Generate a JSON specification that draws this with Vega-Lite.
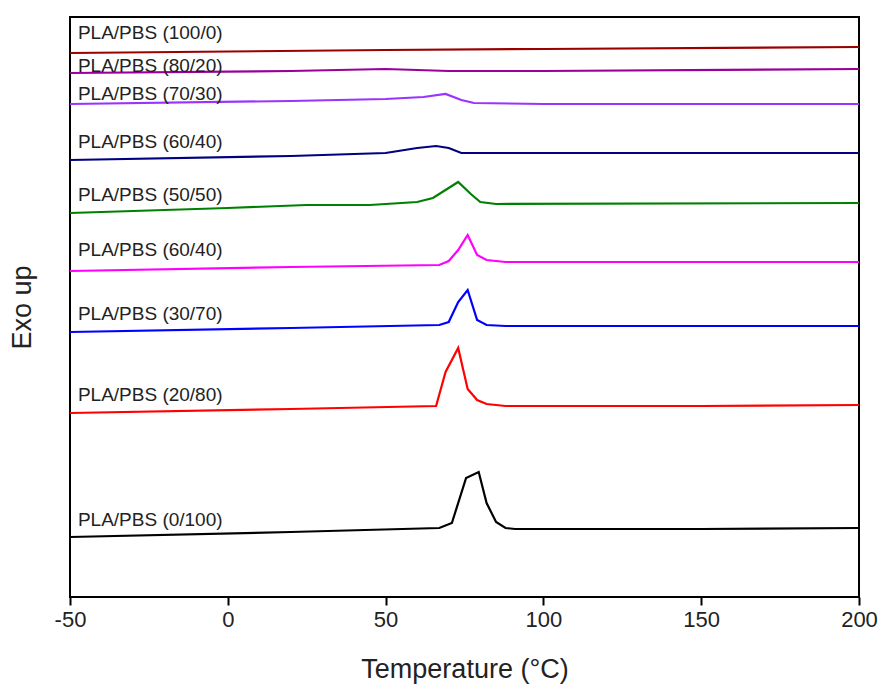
{
  "$schema": "https://vega.github.io/schema/vega-lite/v6.json",
  "width": 789,
  "height": 580,
  "autosize": {"type": "none"},
  "padding": {"left": 70, "top": 17, "right": 22, "bottom": 94},
  "background": "white",
  "config": {
    "view": {"stroke": "black", "strokeWidth": 2},
    "font": "Liberation Sans"
  },
  "datasets": {
    "curves": [
      {"s": "s1", "T": -50, "v": 544}, {"s": "s1", "T": 50, "v": 547}, {"s": "s1", "T": 100, "v": 548}, {"s": "s1", "T": 200, "v": 550},
      {"s": "s2", "T": -50, "v": 524}, {"s": "s2", "T": 20, "v": 526}, {"s": "s2", "T": 50, "v": 528}, {"s": "s2", "T": 70, "v": 526}, {"s": "s2", "T": 100, "v": 526}, {"s": "s2", "T": 200, "v": 528},
      {"s": "s3", "T": -50, "v": 493}, {"s": "s3", "T": 20, "v": 496}, {"s": "s3", "T": 50, "v": 498}, {"s": "s3", "T": 62, "v": 500}, {"s": "s3", "T": 69, "v": 503}, {"s": "s3", "T": 74, "v": 497}, {"s": "s3", "T": 78, "v": 494}, {"s": "s3", "T": 100, "v": 493}, {"s": "s3", "T": 200, "v": 493},
      {"s": "s4", "T": -50, "v": 437}, {"s": "s4", "T": 20, "v": 441}, {"s": "s4", "T": 50, "v": 444}, {"s": "s4", "T": 60, "v": 449}, {"s": "s4", "T": 66, "v": 451}, {"s": "s4", "T": 70, "v": 449}, {"s": "s4", "T": 74, "v": 444}, {"s": "s4", "T": 100, "v": 444}, {"s": "s4", "T": 200, "v": 444},
      {"s": "s5", "T": -50, "v": 384}, {"s": "s5", "T": 0, "v": 389}, {"s": "s5", "T": 25, "v": 392}, {"s": "s5", "T": 45, "v": 392}, {"s": "s5", "T": 60, "v": 395}, {"s": "s5", "T": 65, "v": 399}, {"s": "s5", "T": 73, "v": 415}, {"s": "s5", "T": 77, "v": 403}, {"s": "s5", "T": 80, "v": 395}, {"s": "s5", "T": 85, "v": 393}, {"s": "s5", "T": 200, "v": 394},
      {"s": "s6", "T": -50, "v": 326}, {"s": "s6", "T": 20, "v": 330}, {"s": "s6", "T": 67, "v": 332}, {"s": "s6", "T": 70, "v": 336}, {"s": "s6", "T": 73, "v": 347}, {"s": "s6", "T": 76, "v": 362}, {"s": "s6", "T": 79, "v": 342}, {"s": "s6", "T": 82, "v": 337}, {"s": "s6", "T": 88, "v": 335}, {"s": "s6", "T": 200, "v": 335},
      {"s": "s7", "T": -50, "v": 265}, {"s": "s7", "T": 20, "v": 269}, {"s": "s7", "T": 67, "v": 272}, {"s": "s7", "T": 70, "v": 275}, {"s": "s7", "T": 73, "v": 295}, {"s": "s7", "T": 76, "v": 307}, {"s": "s7", "T": 79, "v": 277}, {"s": "s7", "T": 82, "v": 272}, {"s": "s7", "T": 88, "v": 271}, {"s": "s7", "T": 200, "v": 271},
      {"s": "s8", "T": -50, "v": 184}, {"s": "s8", "T": 20, "v": 188}, {"s": "s8", "T": 66, "v": 191}, {"s": "s8", "T": 69, "v": 225}, {"s": "s8", "T": 73, "v": 249}, {"s": "s8", "T": 76, "v": 208}, {"s": "s8", "T": 79, "v": 197}, {"s": "s8", "T": 82, "v": 193}, {"s": "s8", "T": 88, "v": 191}, {"s": "s8", "T": 150, "v": 191}, {"s": "s8", "T": 200, "v": 192},
      {"s": "s9", "T": -50, "v": 60}, {"s": "s9", "T": 20, "v": 65}, {"s": "s9", "T": 67, "v": 69}, {"s": "s9", "T": 71, "v": 74}, {"s": "s9", "T": 75.5, "v": 119}, {"s": "s9", "T": 79.5, "v": 125}, {"s": "s9", "T": 82, "v": 94}, {"s": "s9", "T": 85, "v": 75}, {"s": "s9", "T": 88, "v": 69}, {"s": "s9", "T": 91, "v": 68}, {"s": "s9", "T": 150, "v": 68}, {"s": "s9", "T": 200, "v": 69}
    ],
    "labels": [
      {"label": "PLA/PBS (100/0)", "T": -47.5, "v": 564},
      {"label": "PLA/PBS (80/20)", "T": -47.5, "v": 531},
      {"label": "PLA/PBS (70/30)", "T": -47.5, "v": 503},
      {"label": "PLA/PBS (60/40)", "T": -47.5, "v": 455},
      {"label": "PLA/PBS (50/50)", "T": -47.5, "v": 402},
      {"label": "PLA/PBS (60/40)", "T": -47.5, "v": 347},
      {"label": "PLA/PBS (30/70)", "T": -47.5, "v": 283},
      {"label": "PLA/PBS (20/80)", "T": -47.5, "v": 202},
      {"label": "PLA/PBS (0/100)", "T": -47.5, "v": 77}
    ]
  },
  "layer": [
    {
      "data": {"name": "curves"},
      "mark": {"type": "line", "strokeWidth": 2.2, "clip": true},
      "encoding": {
        "x": {
          "field": "T", "type": "quantitative",
          "scale": {"domain": [-50, 200], "nice": false, "zero": false},
          "axis": {
            "title": "Temperature (°C)",
            "values": [-50, 0, 50, 100, 150, 200],
            "labelExpr": "replace(datum.label, '−', '-')",
            "grid": false,
            "domain": false,
            "tickColor": "black", "tickSize": 8, "tickWidth": 2,
            "labelFont": "Liberation Sans", "labelFontSize": 22, "labelColor": "#222", "labelPadding": 4,
            "labelFlush": false,
            "titleFont": "Liberation Sans", "titleFontSize": 27, "titleFontWeight": "normal", "titleColor": "#222", "titlePadding": 26
          }
        },
        "y": {
          "field": "v", "type": "quantitative",
          "scale": {"domain": [0, 580], "nice": false, "zero": false},
          "axis": {
            "title": "Exo up",
            "labels": false, "ticks": false, "grid": false, "domain": false,
            "titleFont": "Liberation Sans", "titleFontSize": 27, "titleFontWeight": "normal", "titleColor": "#222", "titlePadding": 34
          }
        },
        "color": {
          "field": "s", "type": "nominal", "legend": null,
          "scale": {
            "domain": ["s1", "s2", "s3", "s4", "s5", "s6", "s7", "s8", "s9"],
            "range": ["#990000", "#990099", "#9933ff", "#000080", "#008000", "#ff00ff", "#0000ff", "#ff0000", "#000000"]
          }
        },
        "detail": {"field": "s"}
      }
    },
    {
      "data": {"name": "labels"},
      "mark": {"type": "text", "align": "left", "baseline": "middle", "fontSize": 19, "font": "Liberation Sans", "color": "#222"},
      "encoding": {
        "x": {"field": "T", "type": "quantitative"},
        "y": {"field": "v", "type": "quantitative"},
        "text": {"field": "label"}
      }
    }
  ]
}
